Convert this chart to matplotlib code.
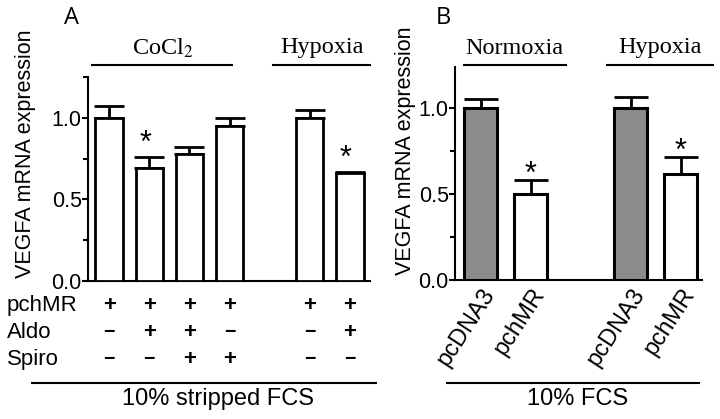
import numpy as np
import matplotlib
matplotlib.use('Agg')
import matplotlib.pyplot as plt
from matplotlib.ticker import MultipleLocator

plt.rcParams['font.family'] = 'Liberation Sans'
plt.rcParams['mathtext.fontset'] = 'stix'

# panel A data
a_pos = [0, 1, 2, 3, 5, 6]
a_mean = [1.0, 0.69, 0.78, 0.95, 1.0, 0.66]
a_err = [0.07, 0.07, 0.04, 0.05, 0.05, 0.01]
a_star = [False, True, False, False, False, True]
rows = ['pchMR', 'Aldo', 'Spiro']
signs = [['+', '+', '+', '+', '+', '+'],
         ['-', '+', '+', '-', '-', '+'],
         ['-', '-', '+', '+', '-', '-']]

# panel B data
b_pos = [0, 1, 3, 4]
b_labels = ['pcDNA3', 'pchMR', 'pcDNA3', 'pchMR']
b_mean = [1.0, 0.50, 1.0, 0.62]
b_err = [0.055, 0.08, 0.063, 0.095]
b_color = ['#8c8c8c', 'white', '#8c8c8c', 'white']
b_star = [False, True, False, True]

W, H = 720, 419
fig = plt.figure(figsize=(7.2, 4.19), dpi=100)

def fx(px):
    return px / W

def fy(py):
    return 1 - py / H

def style_axis(ax, top):
    ax.set_ylim(0, top)
    ax.yaxis.set_major_locator(MultipleLocator(0.5))
    ax.yaxis.set_minor_locator(MultipleLocator(0.25))
    ax.yaxis.set_major_formatter(plt.FormatStrFormatter('%.1f'))
    for s in ['top', 'right']:
        ax.spines[s].set_visible(False)
    for s in ['left', 'bottom']:
        ax.spines[s].set_linewidth(1.5)
    ax.tick_params(axis='y', which='both', direction='out', width=1.5, length=4.5,
                   pad=0, labelsize=15.5)
    ax.tick_params(axis='y', which='minor', length=3.5)

# ---- panel A
axA = fig.add_axes([fx(88), fy(281), fx(370 - 88), (281 - 77) / H])
axA.bar(a_pos, a_mean, width=0.68, color='white', edgecolor='black', linewidth=2, zorder=3)
axA.errorbar(a_pos, a_mean, yerr=[np.zeros(len(a_err)), a_err], fmt='none', ecolor='black',
             elinewidth=2, capsize=10.5, capthick=2, zorder=2)
for x, m, e, st in zip(a_pos, a_mean, a_err, a_star):
    if st:
        axA.text(x - 0.1, m + e + 0.03, '*', ha='center', va='baseline', fontsize=22)
axA.set_xlim(-0.525, 6.5)
axA.set_xticks([])
style_axis(axA, 1.25)

for r, (name, row) in enumerate(zip(rows, signs)):
    yy = fy(305 + r * 27)
    fig.text(fx(7), yy, name, ha='left', va='center', fontsize=16)
    for x, sg in zip(a_pos, row):
        xf = axA.transData.transform((x, 0))[0] / W
        if sg == '+':
            fig.text(xf, yy, '+', ha='center', va='center', fontsize=16, fontweight='bold')
        else:
            fig.text(xf, yy, '\u2212', ha='center', va='center', fontsize=14, fontweight='bold')

fig.add_artist(plt.Line2D([fx(32), fx(376)], [fy(383), fy(383)], color='black', lw=1.5))
fig.text(fx(218), fy(399), '10% stripped FCS', ha='center', va='center', fontsize=17)

fig.add_artist(plt.Line2D([fx(92), fx(232)], [fy(65), fy(65)], color='black', lw=1.5))
fig.text(fx(163), fy(48), r'CoCl$_2$', ha='center', va='center', fontsize=17.5,
         family='Liberation Serif')
fig.add_artist(plt.Line2D([fx(273), fx(370)], [fy(65), fy(65)], color='black', lw=1.5))
fig.text(fx(322), fy(48), 'Hypoxia', ha='center', va='center', fontsize=17.5,
         family='Liberation Serif')
fig.text(fx(26), fy(154), 'VEGFA mRNA expression', rotation=90, ha='center', va='center',
         fontsize=15.5)
fig.text(fx(72), fy(18), 'A', ha='center', va='center', fontsize=17, family='Open Sans')

# ---- panel B
axB = fig.add_axes([fx(455), fy(280), fx(702 - 455), (280 - 67) / H])
axB.bar(b_pos, b_mean, width=0.66, color=b_color, edgecolor='black', linewidth=2.2, zorder=3)
axB.errorbar(b_pos, b_mean, yerr=[np.zeros(len(b_err)), b_err], fmt='none', ecolor='black',
             elinewidth=2, capsize=12, capthick=2, zorder=2)
for x, m, e, st in zip(b_pos, b_mean, b_err, b_star):
    if st:
        axB.text(x, m + e - 0.015, '*', ha='center', va='baseline', fontsize=22)
axB.set_xlim(-0.51, 4.42)
axB.set_xticks(b_pos)
axB.set_xticklabels(b_labels, rotation=57, ha='right', va='top', rotation_mode='anchor',
                    fontsize=17)
axB.tick_params(axis='x', length=0, pad=3)
style_axis(axB, 1.24)

fig.add_artist(plt.Line2D([fx(447), fx(699)], [fy(383), fy(383)], color='black', lw=1.5))
fig.text(fx(578), fy(399), '10% FCS', ha='center', va='center', fontsize=17)
fig.add_artist(plt.Line2D([fx(464), fx(566)], [fy(65), fy(65)], color='black', lw=1.5))
fig.text(fx(514), fy(48), 'Normoxia', ha='center', va='center', fontsize=17.5,
         family='Liberation Serif')
fig.add_artist(plt.Line2D([fx(607), fx(713)], [fy(65), fy(65)], color='black', lw=1.5))
fig.text(fx(660), fy(48), 'Hypoxia', ha='center', va='center', fontsize=17.5,
         family='Liberation Serif')
fig.text(fx(405), fy(151), 'VEGFA mRNA expression', rotation=90, ha='center', va='center',
         fontsize=15.5)
fig.text(fx(443), fy(18), 'B', ha='center', va='center', fontsize=17, family='Open Sans')

fig.savefig('out.png', dpi=100)
